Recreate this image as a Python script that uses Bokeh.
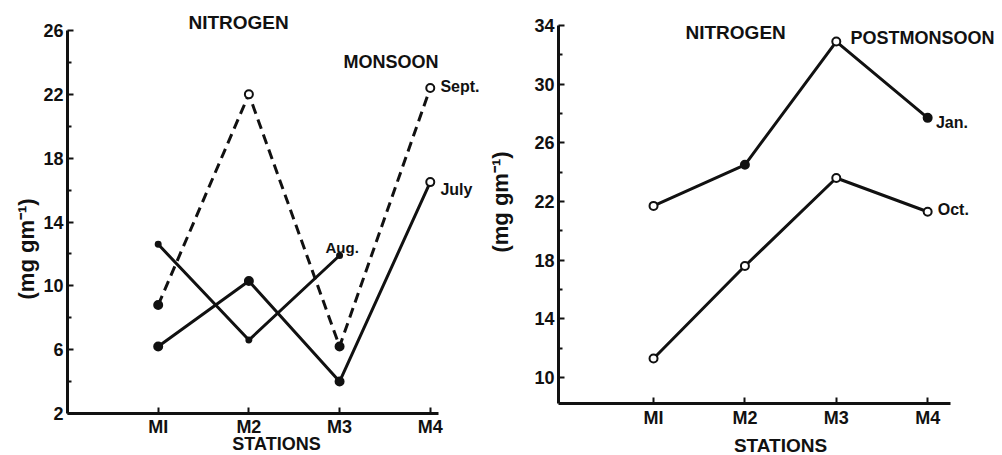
import math
from bokeh.plotting import figure
from bokeh.layouts import row
from bokeh.models import FixedTicker, Label, Range1d, Title
from bokeh.embed import file_html
from bokeh.resources import INLINE

# ---------------- data ----------------
stations = ["MI", "M2", "M3", "M4"]
station_pos = [1, 2, 3, 4]

monsoon_sept = [8.8, 22.0, 6.2, 22.4]
monsoon_july = [6.2, 10.3, 4.0, 16.5]
monsoon_aug = [12.6, 6.6, 11.9]          # M1..M3

post_jan = [21.7, 24.5, 32.9, 27.7]
post_oct = [11.3, 17.6, 23.6, 21.3]

left_yticks = [2, 6, 10, 14, 18, 22, 26]
right_yticks = [10, 14, 18, 22, 26, 30, 34]

# ---------------- style ----------------
FONT = "Liberation Sans"
INK = "#111111"


def style_axes(p, yticks, xbounds, ybounds):
    yminor = [(a + b) / 2 for a, b in zip(yticks[:-1], yticks[1:])]
    p.xaxis.ticker = FixedTicker(ticks=station_pos, minor_ticks=[])
    p.xaxis.major_label_overrides = {k: s for k, s in zip(station_pos, stations)}
    p.yaxis.ticker = FixedTicker(ticks=yticks, minor_ticks=yminor)
    p.xaxis.bounds = xbounds
    p.yaxis.bounds = ybounds
    for ax in (p.xaxis[0], p.yaxis[0]):
        ax.axis_line_width = 3
        ax.axis_line_color = INK
        ax.major_tick_line_width = 2
        ax.major_tick_line_color = INK
        ax.major_tick_in = 6
        ax.major_tick_out = 0
        ax.minor_tick_line_width = 2
        ax.minor_tick_line_color = INK
        ax.minor_tick_in = 4
        ax.minor_tick_out = 0
        ax.major_label_text_font = FONT
        ax.major_label_text_font_style = "bold"
        ax.major_label_text_font_size = "18px"
        ax.major_label_text_color = INK
        ax.axis_label_text_font = FONT
        ax.axis_label_text_font_style = "bold"
        ax.axis_label_text_color = INK
    p.yaxis.major_label_standoff = 4
    p.grid.visible = False
    p.outline_line_color = None
    p.background_fill_color = "white"
    p.border_fill_color = "white"


def label(p, x, y, text, size):
    p.add_layout(Label(x=x, y=y, text=text, text_font=FONT, text_font_style="bold",
                       text_font_size=size, text_color=INK, text_align="left",
                       text_baseline="middle"))


# ---------------- left panel (monsoon) ----------------
p1 = figure(frame_width=418, frame_height=413, min_border_left=67, min_border_right=0,
            min_border_top=0, min_border_bottom=41,
            x_range=Range1d(0, 4.609), y_range=Range1d(2, 27.88),
            output_backend="svg", toolbar_location=None)
style_axes(p1, left_yticks, (0, 4.09), (2, 26))
p1.xaxis.major_label_standoff = 3
p1.xaxis.axis_label = "STATIONS"
p1.xaxis.axis_label_text_font_size = "18px"
p1.xaxis.axis_label_standoff = -6

p1.line(station_pos, monsoon_sept, line_width=3, line_color=INK, line_dash="10 6")
p1.scatter(station_pos, monsoon_sept, size=8, line_width=2, line_color=INK,
           fill_color=[INK, "white", INK, "white"])
p1.line(station_pos, monsoon_july, line_width=3, line_color=INK)
p1.scatter(station_pos, monsoon_july, size=8, line_width=2, line_color=INK,
           fill_color=[INK, INK, INK, "white"])
p1.line(station_pos[:3], monsoon_aug, line_width=3, line_color=INK)
p1.scatter(station_pos[:3], monsoon_aug, size=5, line_width=2, line_color=INK, fill_color=INK)

label(p1, 1.334, 26.5, "NITROGEN", "19px")
label(p1, 3.043, 24.0, "MONSOON", "18px")
label(p1, 4.112, 22.49, "Sept.", "16px")
label(p1, 4.112, 16.04, "July", "16px")
label(p1, 2.845, 12.40, "Aug.", "15px")

p1.add_layout(Title(text="(mg gm\u207b\u00b9)", align="left", offset=114, standoff=4,
                    text_font=FONT, text_font_style="bold", text_font_size="22px",
                    text_color=INK), "left")

# ---------------- right panel (postmonsoon) ----------------
p2 = figure(frame_width=444, frame_height=403, min_border_left=73, min_border_right=0,
            min_border_top=0, min_border_bottom=51,
            x_range=Range1d(-0.04, 4.819), y_range=Range1d(8.23, 35.70),
            output_backend="svg", toolbar_location=None)
style_axes(p2, right_yticks, (-0.04, 4.25), (8.23, 34))
p2.xaxis.major_label_standoff = 4
p2.xaxis.axis_label = "STATIONS"
p2.xaxis.axis_label_text_font_size = "19px"
p2.xaxis.axis_label_standoff = 4
p2.yaxis.axis_label = "(mg gm\u207b\u00b9)"
p2.yaxis.axis_label_text_font_size = "22px"
p2.yaxis.axis_label_standoff = 18

p2.line(station_pos, post_jan, line_width=3, line_color=INK)
p2.scatter(station_pos, post_jan, size=8, line_width=2, line_color=INK,
           fill_color=["white", INK, "white", INK])
p2.line(station_pos, post_oct, line_width=3, line_color=INK)
p2.scatter(station_pos, post_oct, size=8, line_width=2, line_color=INK, fill_color="white")

label(p2, 1.350, 33.52, "NITROGEN", "19px")
label(p2, 3.155, 33.11, "POSTMONSOON", "18px")
label(p2, 4.09, 27.39, "Jan.", "16px")
label(p2, 4.11, 21.46, "Oct.", "16px")

layout = row(p1, p2)
open("out.html", "w").write(file_html(layout, INLINE))
